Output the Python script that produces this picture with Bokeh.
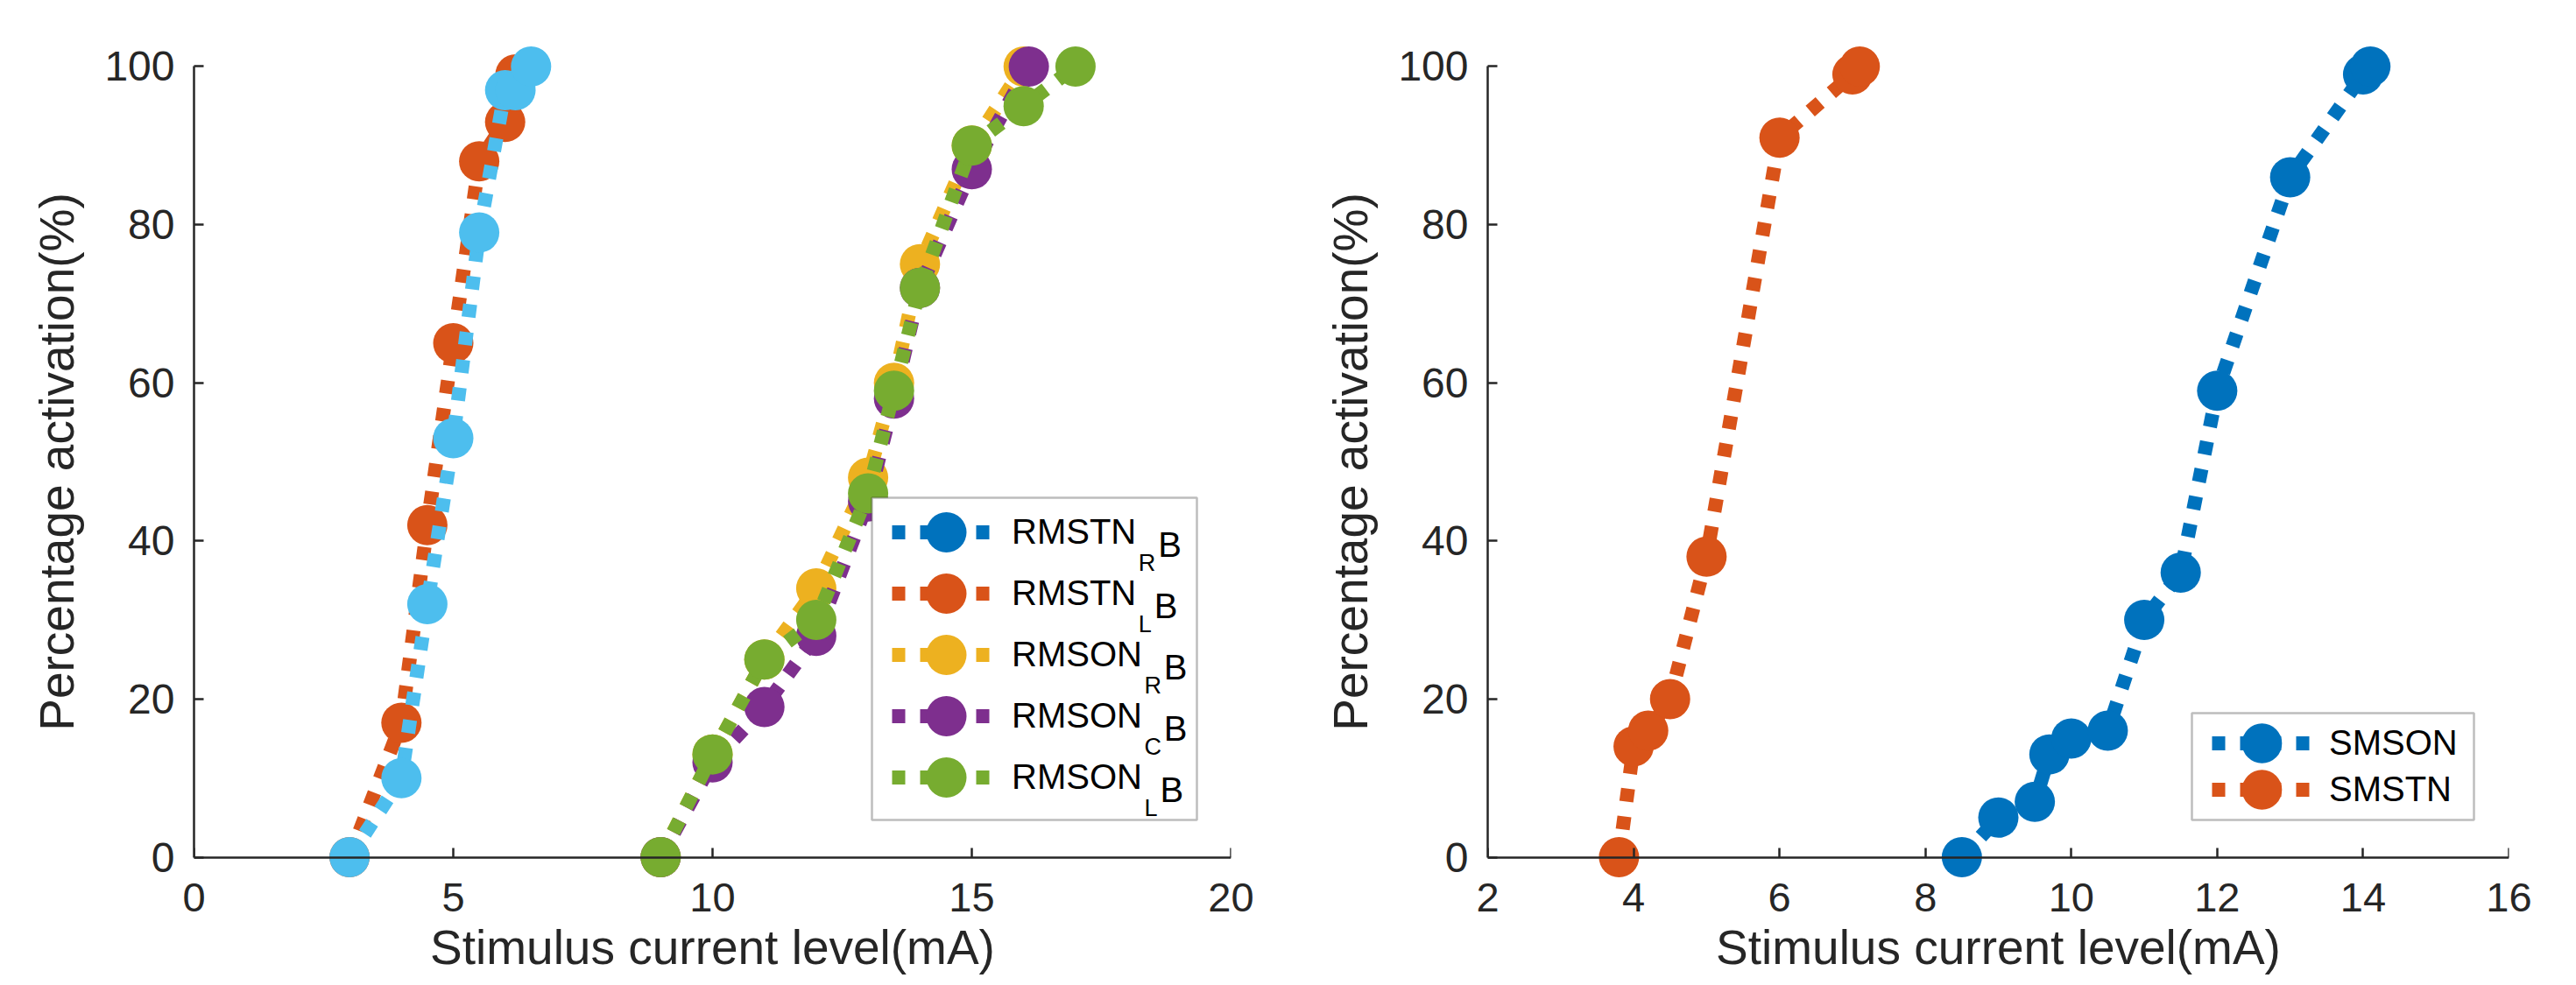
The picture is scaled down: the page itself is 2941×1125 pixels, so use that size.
from bokeh.plotting import figure
from bokeh.layouts import row
from bokeh.models import (Range1d, Legend, LegendItem, Label, BoxAnnotation, FixedTicker,
                          LinearAxis, CustomJSTickFormatter)
from bokeh.embed import file_html
from bokeh.resources import INLINE

# ---------------- data ----------------
# left panel
rmstn_r_x = [3, 4, 4.5, 5, 5.5, 6, 6.2, 6.5]
rmstn_r_y = [0, 10, 32, 53, 79, 97, 97, 100]
rmstn_l_x = [3, 4, 4.5, 5, 5.5, 6, 6.2]
rmstn_l_y = [0, 17, 42, 65, 88, 93, 99]
rmson_r_x = [9, 10, 11, 12, 13, 13.5, 14, 15, 16]
rmson_r_y = [0, 13, 25, 34, 48, 60, 75, 90, 100]
rmson_c_x = [9, 10, 11, 12, 13, 13.5, 14, 15, 16.1]
rmson_c_y = [0, 12, 19, 28, 45, 58, 72, 87, 100]
rmson_l_x = [9, 10, 11, 12, 13, 13.5, 14, 15, 16, 17]
rmson_l_y = [0, 13, 25, 30, 46, 59, 72, 90, 95, 100]
# right panel
smson_x = [8.5, 9, 9.5, 9.7, 10, 10.5, 11, 11.5, 12, 13, 14, 14.1]
smson_y = [0, 5, 7, 13, 15, 16, 30, 36, 59, 86, 99, 100]
smstn_x = [3.8, 4, 4.2, 4.5, 5, 6, 7, 7.1]
smstn_y = [0, 14, 16, 20, 38, 91, 99, 100]

left_xticks = [0, 5, 10, 15, 20]
right_xticks = [2, 4, 6, 8, 10, 12, 14, 16]
y_ticks = [0, 20, 40, 60, 80, 100]
left_legend = [("RMSTN", "R"), ("RMSTN", "L"), ("RMSON", "R"), ("RMSON", "C"), ("RMSON", "L")]
right_legend = ["SMSON", "SMSTN"]
x_title = "Stimulus current level(mA)"
y_title = "Percentage activation(%)"

# ---------------- style ----------------
BLUE, ORANGE, YELLOW, PURPLE, GREEN, CYAN = "#0072BD", "#D95319", "#EDB120", "#7E2F8E", "#77AC30", "#4DBEEE"
FONT = "Liberation Sans"
AX = "#262626"
FRAME_H = 950
YPAD = 2.6
TOP = 52
BOTTOM = 123
LEG_FS = 40
SUB_FS = 27
EM = {"R": .722, "M": .833, "S": .667, "T": .611, "N": .722, "O": .778, "B": .667, "L": .556, "C": .722}


def tw(s, fs):
    return sum(EM[c] for c in s) * fs


def make_fig(xr, xticks, frame_w, left_border, right_border):
    p = figure(frame_width=frame_w, frame_height=FRAME_H,
               min_border_left=left_border, min_border_right=right_border,
               min_border_top=TOP, min_border_bottom=BOTTOM,
               x_range=Range1d(*xr), y_range=Range1d(-YPAD, 100 + YPAD),
               output_backend="svg", toolbar_location=None)
    p.outline_line_color = None
    p.grid.visible = False
    xa, ya = p.xaxis[0], p.yaxis[0]
    # axis line + inward ticks drawn at y = 0
    xa.fixed_location = 0
    xa.bounds = tuple(xr)
    xa.ticker = FixedTicker(ticks=xticks)
    xa.formatter = CustomJSTickFormatter(code="return ''")
    xa.major_label_text_font_size = "0px"
    xa.major_label_standoff = 0
    ya.bounds = (0, 100)
    ya.ticker = FixedTicker(ticks=y_ticks)
    for ax in (xa, ya):
        ax.axis_line_color = AX
        ax.axis_line_width = 2.5
        ax.major_tick_line_color = AX
        ax.major_tick_line_width = 2.5
        ax.major_tick_in = 11
        ax.major_tick_out = 0
        ax.minor_tick_line_color = None
    ya.major_label_text_font = FONT
    ya.major_label_text_font_size = "48px"
    ya.major_label_text_color = AX
    ya.major_label_standoff = 22
    ya.axis_label = y_title
    ya.axis_label_text_font = FONT
    ya.axis_label_text_font_size = "55px"
    ya.axis_label_text_font_style = "normal"
    ya.axis_label_text_color = AX
    ya.axis_label_standoff = 20
    # tick labels and title of the x axis, in the panel below the frame
    xl = LinearAxis(ticker=FixedTicker(ticks=xticks), axis_line_color=None,
                    major_tick_line_color=None, minor_tick_line_color=None,
                    major_label_standoff=0, major_label_text_font=FONT,
                    major_label_text_font_size="47px", major_label_text_color=AX,
                    axis_label=x_title, axis_label_standoff=7, axis_label_text_font=FONT,
                    axis_label_text_font_size="55px", axis_label_text_font_style="normal",
                    axis_label_text_color=AX)
    p.add_layout(xl, "below")
    return p


def series(p, xs, ys, color, visible=True):
    ln = p.line(xs, ys, line_color=color, line_width=16, line_dash="15 17", line_cap="butt", visible=visible)
    sc = p.scatter(xs, ys, size=46, marker="circle", fill_color=color, line_color=None, visible=visible)
    return [ln, sc]


def legend(items, vx, vy, gw, standoff):
    return Legend(items=items, location=(vx, vy), glyph_width=gw, glyph_height=115, spacing=25,
                  padding=0, margin=0, label_standoff=standoff, label_width=150,
                  background_fill_alpha=0, border_line_alpha=0, inactive_fill_alpha=0,
                  label_text_font=FONT, label_text_font_size=f"{LEG_FS}px",
                  label_text_color="black")


def legend_box(p, l, r, t, b):
    p.add_layout(BoxAnnotation(left=l, right=r, top=t, bottom=b,
                               left_units="screen", right_units="screen",
                               top_units="screen", bottom_units="screen",
                               fill_color="white", fill_alpha=1.0,
                               line_color=AX, line_width=2.5))


# frame bottom (pixels from the top of the figure)
FB = TOP + FRAME_H

# ---------------- left panel ----------------
p1 = make_fig((0, 20), left_xticks, 1184, 221, 80)
r_blue = series(p1, rmstn_r_x, rmstn_r_y, BLUE, visible=False)
r_orange = series(p1, rmstn_l_x, rmstn_l_y, ORANGE)
r_yellow = series(p1, rmson_r_x, rmson_r_y, YELLOW)
r_purple = series(p1, rmson_c_x, rmson_c_y, PURPLE)
r_green = series(p1, rmson_l_x, rmson_l_y, GREEN)
r_cyan = series(p1, rmstn_r_x, rmstn_r_y, CYAN)

legend_box(p1, 774, 1145, FB - 568, FB - 936)
groups = [r_blue, r_orange, r_yellow, r_purple, r_green]
row_c = [607.5 + 70 * i for i in range(5)]
itemsA = [LegendItem(label=left_legend[i][0], renderers=groups[i]) for i in (0, 2, 4)]
itemsB = [LegendItem(label=left_legend[i][0], renderers=groups[i]) for i in (1, 3)]
p1.add_layout(legend(itemsA, 797, FB - (row_c[4] + 57.5), 124, 13))
p1.add_layout(legend(itemsB, 797, FB - (row_c[3] + 57.5), 124, 13))
for i, (main, sub) in enumerate(left_legend):
    base = row_c[i] + 14.3
    xs = 934 + tw(main, LEG_FS) + 2
    p1.add_layout(Label(x=xs, y=FB - (base + 21), x_units="screen", y_units="screen", text=sub,
                        text_baseline="alphabetic", text_font=FONT,
                        text_font_size=f"{SUB_FS}px", text_color="black"))
    xb = xs + tw(sub, SUB_FS) + 3
    p1.add_layout(Label(x=xb, y=FB - base, x_units="screen", y_units="screen", text="B",
                        text_baseline="alphabetic", text_font=FONT,
                        text_font_size=f"{LEG_FS}px", text_color="black"))

# ---------------- right panel ----------------
p2 = make_fig((2, 16), right_xticks, 1166, 213, 60)
s_blue = series(p2, smson_x, smson_y, BLUE)
s_orange = series(p2, smstn_x, smstn_y, ORANGE)
legend_box(p2, 804, 1126, FB - 814, FB - 936)
rrow_c = [848.5, 901.5]
p2.add_layout(legend([LegendItem(label=right_legend[0], renderers=s_blue)], 827, FB - (rrow_c[0] + 57.5), 114, 20))
p2.add_layout(legend([LegendItem(label=right_legend[1], renderers=s_orange)], 827, FB - (rrow_c[1] + 57.5), 114, 20))

layout = row(p1, p2)
open("out.html", "w").write(file_html(layout, INLINE))
